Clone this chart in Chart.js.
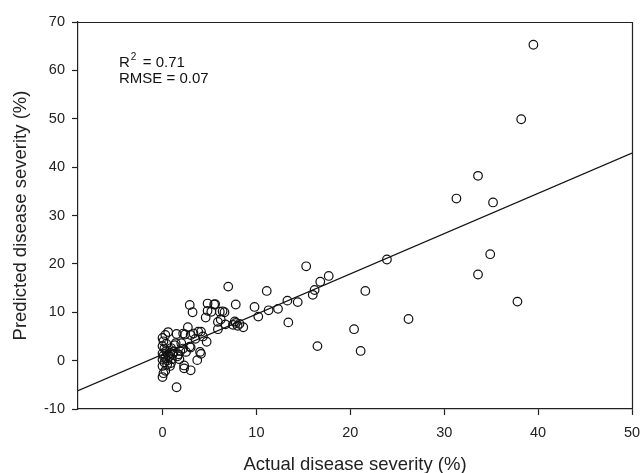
<!DOCTYPE html>
<html>
<head>
<meta charset="utf-8">
<script src="https://cdn.jsdelivr.net/npm/chart.js@4/dist/chart.umd.min.js"></script>
<style>
  html, body { margin: 0; padding: 0; background: #fff; }
  #wrap { width: 640px; height: 473px; }
</style>
</head>
<body>
<div id="wrap"><canvas id="chart" width="640" height="473"></canvas></div>
<script>
// ---------------------------------------------
// DATA
// ---------------------------------------------
const actualSeverity = [
    0, 0.1, 0.3, 0.6, 0, 0.2, 0.4, 0, 0.1, 0.3, 0, 0.5, 0.2, 0.7, 0.8, 0.9, 0.4, 0.6,
    0, 0.8, 0.3, 0, 0.1, 0.5, 1.0, 1.1, 0.9,
    1.5, 1.4, 1.3, 1.9, 2.2, 1.5, 1.6, 1.8, 2.0, 1.2, 1.7,
    2.4, 2.2, 2.7, 3.0, 3.0, 2.3, 2.3, 3.0, 2.9, 2.5, 2.9, 3.2,
    3.3, 3.8, 4.1, 3.7, 4.0, 4.1, 4.7, 4.6, 4.8, 4.8, 3.5, 4.3, 5.5, 5.2,
    5.6, 5.9, 5.9, 6.4, 6.1, 6.6, 6.7, 7.0, 6.2,
    7.8, 7.5, 7.8, 8.0, 8.2, 7.7, 8.6,
    9.8, 10.2, 11.1, 11.3, 12.3, 13.3, 13.4, 14.4, 15.3, 16.0, 16.2, 16.8, 17.7,
    16.5, 20.4, 21.1, 21.6, 23.9, 26.2, 31.3, 33.6, 35.2, 34.9, 33.6, 37.8, 38.2, 39.5
];
const predictedSeverity = [
    4.7, 4.0, 5.3, 5.9, 3.0, 2.5, 2.0, 1.5, 1.0, 0.6, 0.2, 0.0, -0.4, 0.8, 1.6, 2.6, 3.5, 1.2,
    -1.1, -1.1, -2.1, -3.4, -2.6, -0.8, 0.3, 1.4, -0.5,
    5.5, 3.6, 3.2, 2.0, 2.5, -5.5, 0.9, 0.3, 3.6, 1.9, 1.3,
    5.4, 5.6, 6.9, 5.3, 2.7, -1.0, -1.6, -2.0, 2.9, 1.8, 11.5, 10.0,
    5.6, 6.0, 1.4, 0.1, 1.8, 6.0, 3.9, 8.9, 10.3, 11.8, 4.5, 5.0, 11.6, 10.1,
    11.7, 8.0, 6.5, 10.2, 10.1, 10.0, 7.5, 15.3, 8.5,
    11.6, 7.4, 7.8, 7.2, 7.6, 8.1, 6.9,
    11.1, 9.1, 14.4, 10.4, 10.7, 12.4, 7.9, 12.1, 19.5, 13.6, 14.6, 16.3, 17.5,
    3.0, 6.5, 2.0, 14.4, 20.9, 8.6, 33.5, 38.2, 32.7, 22.0, 17.8, 12.2, 49.9, 65.3
];

// Fitted regression line end points (at axis limits)
const fitX = [-9, 50];
const fitY = [-6.2, 42.9];

const xTicks = [0, 10, 20, 30, 40, 50];
const yTicks = [-10, 0, 10, 20, 30, 40, 50, 60, 70];

const statsLines = ["R", "2", "= 0.71", "RMSE = 0.07"];

// ---------------------------------------------
// PLUGINS
// ---------------------------------------------
const FONT = "'Liberation Sans', Arial, sans-serif";

// Box frame (top and right edges)
const framePlugin = {
    id: "frame",
    afterDraw(chart) {
        const { ctx, chartArea: a } = chart;
        ctx.save();
        ctx.strokeStyle = "#222";
        ctx.lineWidth = 1.2;
        ctx.beginPath();
        ctx.moveTo(a.left, a.top + 0.5);
        ctx.lineTo(a.right + 0.5, a.top + 0.5);
        ctx.lineTo(a.right + 0.5, a.bottom);
        ctx.stroke();
        ctx.restore();
    }
};

// R^2 / RMSE text
const statsPlugin = {
    id: "stats",
    afterDraw(chart) {
        const { ctx, chartArea: a } = chart;
        const x = a.left + 41;
        ctx.save();
        ctx.fillStyle = "#111";
        ctx.textBaseline = "middle";
        ctx.font = "15px " + FONT;
        ctx.fillText(statsLines[0], x, 63);
        const rw = ctx.measureText(statsLines[0]).width;
        ctx.font = "10px " + FONT;
        ctx.fillText(statsLines[1], x + rw + 1, 57);
        ctx.font = "15px " + FONT;
        ctx.fillText(statsLines[2], x + rw + 13, 63);
        ctx.fillText(statsLines[3], x, 79);
        ctx.restore();
    }
};

// ---------------------------------------------
// CHART
// ---------------------------------------------
function initChart() {
    const points = actualSeverity.map((v, i) => ({ x: v, y: predictedSeverity[i] }));
    const fit = fitX.map((v, i) => ({ x: v, y: fitY[i] }));

    new Chart(document.getElementById("chart").getContext("2d"), {
        type: "scatter",
        data: {
            datasets: [
                {
                    label: "Observations",
                    data: points,
                    pointRadius: 4.3,
                    pointBorderWidth: 1.2,
                    pointBorderColor: "#111",
                    pointBackgroundColor: "rgba(0,0,0,0)",
                    order: 2
                },
                {
                    type: "line",
                    label: "Fit",
                    data: fit,
                    borderColor: "#111",
                    borderWidth: 1.2,
                    pointRadius: 0,
                    fill: false,
                    order: 1
                }
            ]
        },
        options: {
            responsive: false,
            animation: false,
            layout: { padding: { top: 22, right: 8, left: 0, bottom: 0 } },
            plugins: {
                legend: { display: false },
                tooltip: { enabled: false }
            },
            scales: {
                x: {
                    type: "linear",
                    min: -9,
                    max: 50,
                    afterBuildTicks: (s) => { s.ticks = xTicks.map(v => ({ value: v })); },
                    afterFit: (s) => {
                        s.height = 64;
                        s.paddingLeft = 0;
                        s.paddingRight = 0;
                    },
                    border: { color: "#222", width: 1.2 },
                    grid: { drawOnChartArea: false, tickLength: 6, color: "#222", tickWidth: 1.2 },
                    ticks: { color: "#222", font: { family: FONT, size: 14.5 }, padding: 9, maxRotation: 0 },
                    title: {
                        display: true,
                        text: "Actual disease severity (%)",
                        color: "#222",
                        font: { family: FONT, size: 18.5 },
                        padding: { top: 0, bottom: -3 }
                    }
                },
                y: {
                    type: "linear",
                    min: -10,
                    max: 70,
                    afterBuildTicks: (s) => { s.ticks = yTicks.map(v => ({ value: v })); },
                    afterFit: (s) => {
                        s.width = 78;
                        s.paddingTop = 0;
                        s.paddingBottom = 0;
                    },
                    border: { color: "#222", width: 1.2 },
                    grid: { drawOnChartArea: false, tickLength: 6, color: "#222", tickWidth: 1.2 },
                    ticks: { color: "#222", font: { family: FONT, size: 14.5 }, padding: 7 },
                    title: {
                        display: true,
                        text: "Predicted disease severity (%)",
                        color: "#222",
                        font: { family: FONT, size: 18.5 },
                        padding: { top: 10, bottom: 0 }
                    }
                }
            }
        },
        plugins: [framePlugin, statsPlugin]
    });
}

document.addEventListener("DOMContentLoaded", initChart);
</script>
</body>
</html>
